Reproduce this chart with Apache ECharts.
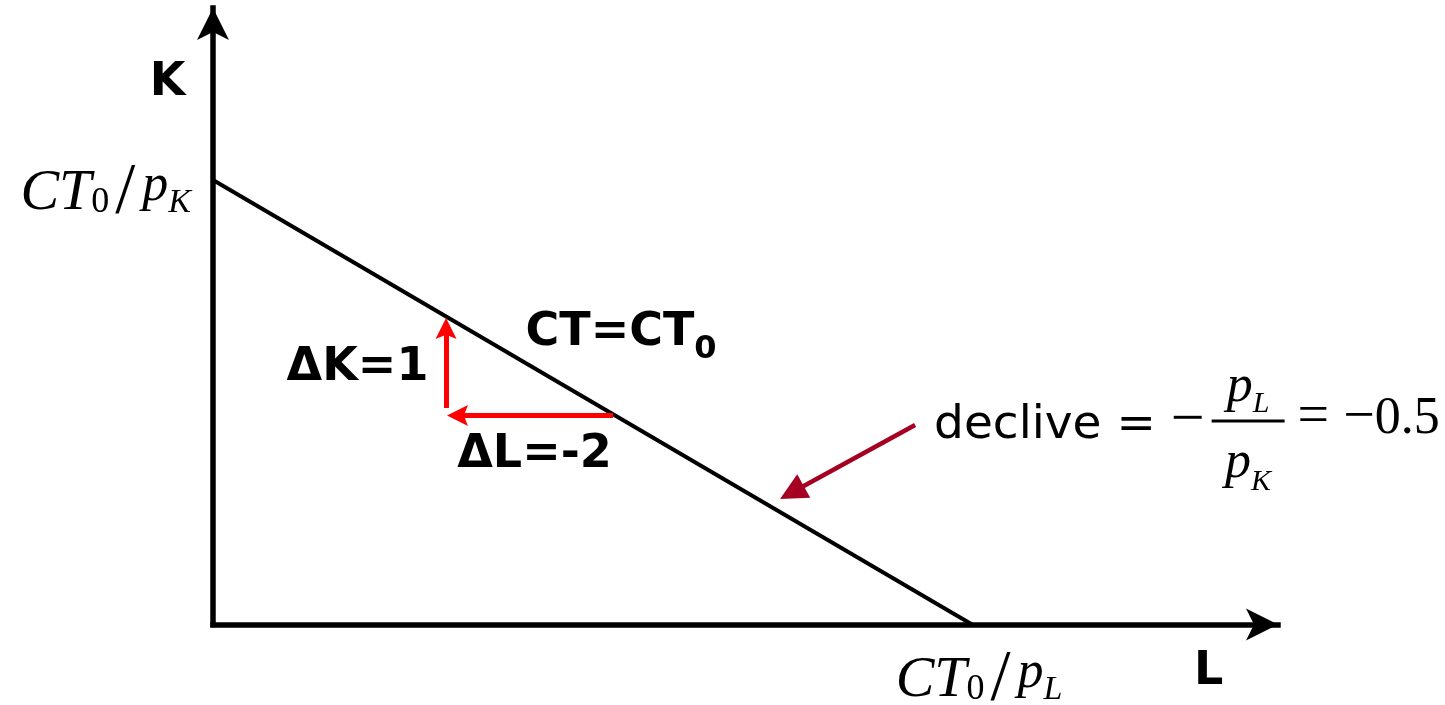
<!DOCTYPE html>
<html>
<head>
<meta charset="utf-8">
<script src="https://cdn.jsdelivr.net/npm/echarts@6.0.0/dist/echarts.min.js"></script>
<style>
  html, body { margin: 0; padding: 0; background: #ffffff; }
  #chart { width: 1445px; height: 705px; }
</style>
</head>
<body>
<div id="chart"></div>
<script>
// ---------- data ----------
const kIntercept = 5;          // CT0 / pK
const lIntercept = 10;         // CT0 / pL  (slope = -0.5)
const xAxisMax = 14.03;
const yAxisMax = 6.935;
const budgetLine = [[0, kIntercept], [lIntercept, 0]];
const deltaLArrow = [[5.27, 2.351], [3.221, 2.351]];
const deltaKArrow = [[3.07, 2.435], [3.07, 3.330]];
const slopePointer = [[9.249, 2.244], [7.626, 1.485]];
const yTickValues = [kIntercept];
const xTickValues = [lIntercept];
const annotationTexts = [
  '{bold|K}',
  '{bold|L}',
  '{bold|ΔK=1}',
  '{bold|ΔL=-2}',
  '{bold|CT=CT}{boldSub|0}',
  '{sans|declive = }{mathMinus|−}',
  '{fracP|p}{fracSubL|L}\n{fracBar| }\n{fracPd|p}{fracSubK|K}',
  '{serifBig|= −}{serif|0.5}'
];
const annotationAnchors = [
  [-0.593, 6.082],
  [13.123, -0.543],
  [1.910, 2.876],
  [4.242, 1.898],
  [4.124, 3.273],
  [13.070, 2.284],
  [13.643, 3.020],
  [14.295, 2.312]
];
const annotationAlign = ['center', 'center', 'center', 'center', 'left', 'right', 'center', 'left'];
const annotationVAlign = ['middle', 'middle', 'middle', 'middle', 'middle', 'middle', 'top', 'middle'];

// ---------- styles ----------
const SERIF = 'Liberation Serif';
const SANS = 'DejaVu Sans';
const textRich = {
  bold: { fontFamily: SANS, fontWeight: 'bold', fontSize: 46, color: '#000', height: 56, lineHeight: 56, verticalAlign: 'bottom' },
  boldSub: { fontFamily: SANS, fontWeight: 'bold', fontSize: 32, color: '#000', height: 22, lineHeight: 22, verticalAlign: 'bottom' },
  sans: { fontFamily: SANS, fontSize: 47, color: '#000', height: 56, lineHeight: 56, verticalAlign: 'bottom' },
  mathMinus: { fontFamily: SERIF, fontSize: 60, color: '#000', height: 65.5, lineHeight: 65.5, verticalAlign: 'bottom' },
  serif: { fontFamily: SERIF, fontSize: 52, color: '#000', height: 60, lineHeight: 60, verticalAlign: 'bottom' },
  serifBig: { fontFamily: SERIF, fontSize: 56, color: '#000', height: 62, lineHeight: 62, verticalAlign: 'bottom' },
  fracP: { fontFamily: SERIF, fontStyle: 'italic', fontSize: 52, color: '#000', height: 64, lineHeight: 64, verticalAlign: 'bottom' },
  fracSubL: { fontFamily: SERIF, fontStyle: 'italic', fontSize: 30, color: '#000', height: 31, lineHeight: 31, verticalAlign: 'bottom' },
  fracPd: { fontFamily: SERIF, fontStyle: 'italic', fontSize: 52, color: '#000', height: 82, lineHeight: 82, verticalAlign: 'bottom' },
  fracSubK: { fontFamily: SERIF, fontStyle: 'italic', fontSize: 30, color: '#000', height: 45, lineHeight: 45, verticalAlign: 'bottom' },
  fracBar: { fontSize: 1, color: 'transparent', width: 73, height: 3, lineHeight: 3, backgroundColor: '#000' }
};
function mathRich(leftPad) {
  return {
    mC: { fontFamily: SERIF, fontStyle: 'italic', fontSize: 58, color: '#000', height: 32, lineHeight: 32, verticalAlign: 'bottom', padding: [0, 0, 0, leftPad] },
    mS: { fontFamily: SERIF, fontSize: 36, color: '#000', height: 14, lineHeight: 14, verticalAlign: 'bottom' },
    mSl: { fontFamily: SERIF, fontSize: 72, color: '#000', height: 34, lineHeight: 34, verticalAlign: 'bottom', padding: [0, 7, 0, 6] },
    mP: { fontFamily: SERIF, fontStyle: 'italic', fontSize: 52, color: '#000', height: 48, lineHeight: 48, verticalAlign: 'bottom' },
    mK: { fontFamily: SERIF, fontStyle: 'italic', fontSize: 34, color: '#000', height: 13, lineHeight: 13, verticalAlign: 'bottom' }
  };
}

const axisLineStyle = { color: '#000', width: 5.5, cap: 'square' };

const chart = echarts.init(document.getElementById('chart'), null, { renderer: 'canvas' });
chart.setOption({
  backgroundColor: '#ffffff',
  animation: false,
  grid: { left: 213, right: 167, top: 8, bottom: 80.5, containLabel: false, outerBoundsMode: 'none' },
  xAxis: {
    type: 'value', min: 0, max: xAxisMax,
    axisLine: { show: true, symbol: ['none', 'arrow'], symbolSize: [24, 32], lineStyle: axisLineStyle },
    axisTick: { show: false },
    splitLine: { show: false },
    axisLabel: {
      show: true, customValues: xTickValues, margin: 24.5,
      formatter: () => '{mC|CT}{mS|0}{mSl|/}{mP|p}{mK|L}',
      rich: mathRich(14)
    }
  },
  yAxis: {
    type: 'value', min: 0, max: yAxisMax,
    axisLine: { show: true, symbol: ['none', 'arrow'], symbolSize: [24, 32], lineStyle: axisLineStyle },
    axisTick: { show: false },
    splitLine: { show: false },
    axisLabel: {
      show: true, customValues: yTickValues, margin: 22, padding: [12, 0, 0, 0],
      formatter: () => '{mC|CT}{mS|0}{mSl|/}{mP|p}{mK|K}',
      rich: mathRich(0)
    }
  },
  series: [
    {
      type: 'line', data: budgetLine, symbol: 'none', silent: true,
      lineStyle: { color: '#000', width: 4 }, z: 3
    },
    {
      type: 'lines', coordinateSystem: 'cartesian2d', silent: true, z: 4,
      symbol: ['none', 'path://M0,0 L10,20 L0,16 L-10,20 Z'], symbolSize: [0, 21],
      lineStyle: { color: '#ff0000', width: 5, opacity: 1, curveness: 0 },
      data: [{ coords: deltaLArrow }, { coords: deltaKArrow }]
    },
    {
      type: 'lines', coordinateSystem: 'cartesian2d', silent: true, z: 4,
      symbol: ['none', 'triangle'], symbolSize: [0, 27],
      lineStyle: { color: '#a50021', width: 4.5, opacity: 1, curveness: 0 },
      data: [{ coords: slopePointer }]
    },
    {
      type: 'scatter', silent: true, clip: false, z: 5,
      symbol: 'circle', symbolSize: 1,
      itemStyle: { color: 'transparent', opacity: 1 },
      label: { show: true, position: [0, 0], rich: textRich, color: '#000', opacity: 1 },
      data: annotationAnchors.map((p, i) => ({
        value: p,
        label: { formatter: annotationTexts[i], align: annotationAlign[i], verticalAlign: annotationVAlign[i], opacity: 1 }
      }))
    }
  ]
});
</script>
</body>
</html>
